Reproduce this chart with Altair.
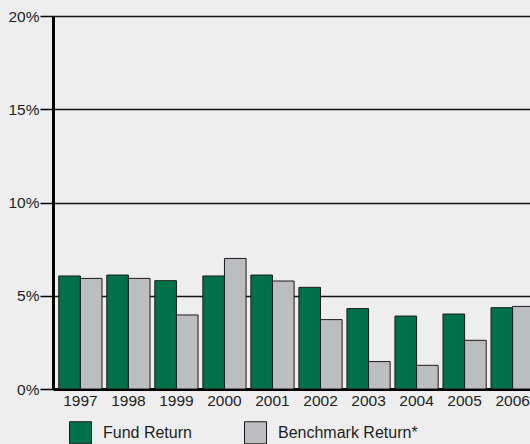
import altair as alt
import pandas as pd

years = ["1997", "1998", "1999", "2000", "2001", "2002", "2003", "2004", "2005", "2006"]
fund_return = [6.06, 6.11, 5.81, 6.06, 6.11, 5.45, 4.31, 3.91, 4.02, 4.36]
benchmark_return = [5.93, 5.93, 3.97, 7.0, 5.79, 3.72, 1.47, 1.27, 2.61, 4.43]
series_names = ["Fund Return", "Benchmark Return*"]
y_ticks = [0, 5, 10, 15, 20]

rows = []
for i, yr in enumerate(years):
    rows.append({"year": yr, "series": series_names[0], "value": fund_return[i]})
    rows.append({"year": yr, "series": series_names[1], "value": benchmark_return[i]})
df = pd.DataFrame(rows)

FONT = "Liberation Sans"

bars = alt.Chart(df).mark_bar(
    stroke="#1a1a1a", strokeWidth=1, clip=True
).encode(
    x=alt.X(
        "year:N",
        sort=years,
        scale=alt.Scale(paddingInner=0.1, paddingOuter=0.12, range=[0, 487]),
        axis=alt.Axis(
            title=None, labelAngle=0, ticks=False, labelFontSize=15.5,
            labelColor="#1e1e1e", labelFont=FONT, labelPadding=4,
            domainColor="#000000", domainWidth=3, grid=False,
        ),
    ),
    xOffset=alt.XOffset("series:N", sort=series_names),
    y=alt.Y(
        "value:Q",
        scale=alt.Scale(domain=[0, 20], nice=False),
        axis=alt.Axis(
            title=None, values=y_ticks, labelExpr="datum.value + '%'",
            labelFontSize=15.5, labelColor="#1e1e1e", labelFont=FONT,
            tickSize=13, tickColor="#000000", tickWidth=1.5, labelPadding=1,
            domainColor="#000000", domainWidth=3,
            grid=True, gridColor="#111111", gridWidth=1.4, gridOpacity=1,
        ),
    ),
    fill=alt.Fill(
        "series:N",
        scale=alt.Scale(domain=series_names, range=["#00714B", "#BCBDC0"]),
        legend=alt.Legend(
            title=None, orient="none", direction="horizontal",
            legendX=16, legendY=405, symbolType="square", symbolSize=484,
            symbolStrokeColor="#1a1a1a", symbolStrokeWidth=1,
            labelFontSize=16, labelFont=FONT, labelColor="#1e1e1e",
            labelOffset=11, columnPadding=50, padding=0, labelLimit=300,
            labelExpr="datum.label == 'Fund Return' ? datum.label : '\u00a0\u00a0\u00a0' + datum.label",
        ),
    ),
)

chart = bars.properties(
    width=477, height=373,
    autosize=alt.AutoSizeParams(type="none"),
    padding={"left": 53, "top": 16, "right": 0, "bottom": 55},
    background="#EEEEEE",
).configure_view(stroke=None)

chart.save("out.html", embed_options={"renderer": "svg", "actions": False})
